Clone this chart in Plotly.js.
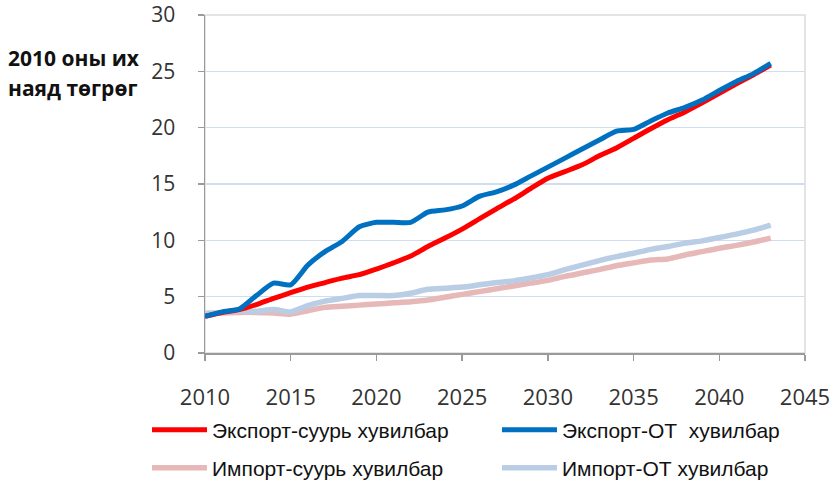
<!DOCTYPE html>
<html>
<head>
<meta charset="utf-8">
<script src="https://cdn.plot.ly/plotly-3.0.1.min.js"></script>
<style>html,body{margin:0;padding:0;background:#fff;}#chart{width:836px;height:482px;}</style>
</head>
<body>
<div id="chart"></div>
<script>
const years = [2010,2011,2012,2013,2014,2015,2016,2017,2018,2019,2020,2021,2022,2023,2024,2025,2026,2027,2028,2029,2030,2031,2032,2033,2034,2035,2036,2037,2038,2039,2040,2041,2042,2043];
const exportBase = [3.25,3.6,3.85,4.3,4.85,5.35,5.85,6.25,6.65,6.95,7.45,8.0,8.6,9.45,10.2,11.0,11.9,12.8,13.65,14.6,15.5,16.1,16.7,17.5,18.2,19.05,19.9,20.7,21.4,22.2,23.05,23.9,24.7,25.55];
const exportOT = [3.25,3.65,3.9,5.1,6.2,6.05,7.8,9.0,9.9,11.2,11.6,11.6,11.6,12.5,12.7,13.05,13.9,14.3,14.9,15.7,16.5,17.3,18.1,18.9,19.7,19.85,20.6,21.3,21.8,22.45,23.3,24.1,24.8,25.7];
const importBase = [3.5,3.55,3.6,3.6,3.55,3.45,3.75,4.05,4.15,4.25,4.35,4.45,4.55,4.7,4.95,5.2,5.45,5.7,5.95,6.2,6.45,6.8,7.1,7.4,7.75,8.0,8.25,8.35,8.7,9.0,9.3,9.55,9.85,10.2];
const importOT = [3.5,3.6,3.75,3.7,3.85,3.65,4.2,4.6,4.85,5.1,5.1,5.1,5.3,5.65,5.75,5.85,6.05,6.25,6.4,6.65,6.95,7.4,7.8,8.2,8.55,8.85,9.2,9.45,9.75,9.95,10.25,10.55,10.9,11.35];
const seriesNames = ['Экспорт-суурь хувилбар','Экспорт-ОТ  хувилбар','Импорт-суурь хувилбар','Импорт-ОТ хувилбар'];
const xTicks = [2010,2015,2020,2025,2030,2035,2040,2045];
const yTicks = [0,5,10,15,20,25,30];
const yLabel1 = '2010 оны их';
const yLabel2 = 'наяд төгрөг';

const W = 836, H = 482;
function mk(y, name, color, width, legendId) {
  return {x: years, y: y, name: name, type: 'scatter', mode: 'lines',
    line: {color: color, width: width, shape: 'spline', smoothing: 0.6},
    legend: legendId, hoverinfo: 'skip'};
}
const traces = [
  mk(importBase, seriesNames[2], '#E6B9B8', 5.5, 'legend3'),
  mk(importOT, seriesNames[3], '#B9CDE5', 5.5, 'legend4'),
  mk(exportBase, seriesNames[0], '#FF0000', 5, 'legend'),
  mk(exportOT, seriesNames[1], '#0070C0', 5, 'legend2')
];
function leg(xpx, ypx) {
  return {x: xpx / W, y: 1 - ypx / H, xref: 'container', yref: 'container',
    xanchor: 'left', yanchor: 'middle', orientation: 'h', itemwidth: 55,
    bgcolor: 'rgba(0,0,0,0)', borderwidth: 0,
    font: {family: 'Liberation Sans, Arial, sans-serif', size: 21, color: '#111'}};
}
const layout = {
  width: W, height: H,
  margin: {l: 205, r: 31, t: 15, b: 129, pad: 0},
  paper_bgcolor: '#fff', plot_bgcolor: '#fff',
  showlegend: true,
  legend: leg(147, 430),
  legend2: leg(497, 430),
  legend3: leg(147, 468),
  legend4: leg(497, 468),
  xaxis: {range: [2010, 2045], tickvals: xTicks, ticktext: xTicks.map(String),
    showgrid: false, zeroline: false, showline: true, linecolor: '#9a9a9a', linewidth: 1.5,
    ticks: 'outside', ticklen: 6, tickcolor: '#9a9a9a', tickwidth: 1.5,
    ticklabelstandoff: 18,
    tickfont: {family: 'Open Sans, sans-serif', size: 22, color: '#333'}},
  yaxis: {range: [0, 30], tickvals: yTicks, ticktext: yTicks.map(String),
    showgrid: true, gridcolor: '#CFDDF0', gridwidth: 1.2, zeroline: false,
    showline: true, linecolor: '#9a9a9a', linewidth: 1.5,
    ticks: 'outside', ticklen: 6, tickcolor: '#9a9a9a', tickwidth: 1.5,
    ticklabelstandoff: 18,
    tickfont: {family: 'Open Sans, sans-serif', size: 21, color: '#333'}},
  shapes: [{type: 'rect', xref: 'paper', yref: 'paper', x0: 0, x1: 1, y0: 0, y1: 1,
    line: {color: '#dcdcdc', width: 1.5}, layer: 'below'}],
  annotations: [
    {text: '<b>' + yLabel1 + '</b>', xref: 'paper', yref: 'paper', x: (6 - 205) / 600, y: (353 - 58) / 338,
     xanchor: 'left', yanchor: 'middle', showarrow: false,
     font: {family: 'Open Sans, sans-serif', size: 21, color: '#111'}},
    {text: '<b>' + yLabel2 + '</b>', xref: 'paper', yref: 'paper', x: (6 - 205) / 600, y: (353 - 88) / 338,
     xanchor: 'left', yanchor: 'middle', showarrow: false,
     font: {family: 'Open Sans, sans-serif', size: 21, color: '#111'}}
  ]
};
Plotly.newPlot('chart', traces, layout, {staticPlot: true, displayModeBar: false});
</script>
</body>
</html>
